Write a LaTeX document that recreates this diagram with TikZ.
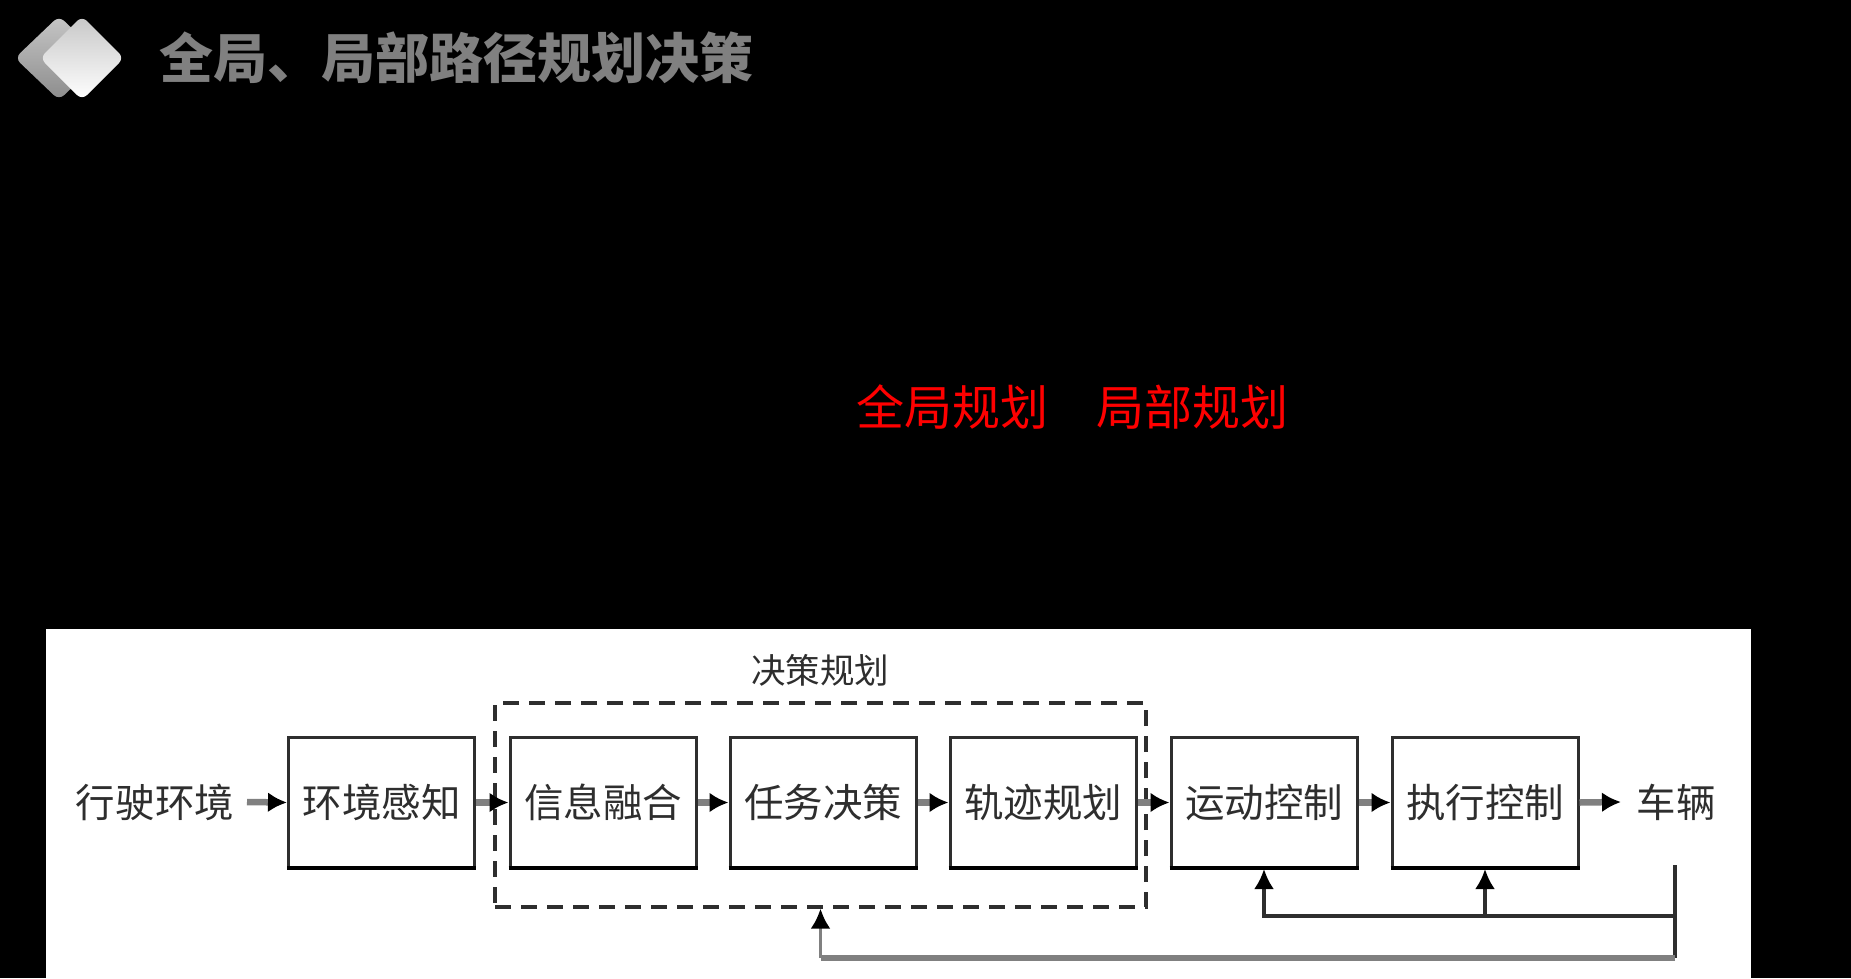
\documentclass[tikz,border=0pt]{standalone}
\usepackage{fontspec}
\usetikzlibrary{arrows.meta,calc}
\setmainfont{Noto Sans CJK SC}
\definecolor{flowgray}{HTML}{808080}
\definecolor{inkdark}{HTML}{2E2E2E}
\tikzset{
  x=1bp,y=-1bp,
  stagebox/.style={draw=inkdark,line width=3bp,fill=white,minimum width=186bp,minimum height=130bp,inner sep=0pt,text=inkdark,font=\fontsize{39.5bp}{40bp}\selectfont},
  plainlabel/.style={inner sep=0pt,text=inkdark,font=\fontsize{39.5bp}{40bp}\selectfont},
  flow/.style={draw=flowgray,line width=6.5bp,-{Latex[black,length=19bp,width=20bp]}},
  back/.style={draw=inkdark,line width=3.5bp,-{Latex[black,length=20bp,width=20bp]}},
  backplain/.style={draw=inkdark,line width=3.5bp},
  backwide/.style={draw=flowgray,line width=6bp},
  framebox/.style={draw=inkdark,line width=3.2bp,dash pattern=on 16bp off 10bp,minimum width=651bp,minimum height=204bp,inner sep=0pt},
  heading/.style={inner sep=0pt,text=flowgray,font=\fontsize{54bp}{55bp}\selectfont\bfseries},
  redlabel/.style={inner sep=0pt,text=red,font=\fontsize{48bp}{48bp}\selectfont},
  gem/.style={rounded corners=7bp,line width=0pt}
}
\begin{document}
\begin{tikzpicture}
\useasboundingbox (0,0) rectangle (1851,978);
\fill[black] (0,0) rectangle (1851,978);
\fill[white] (46,629) rectangle (1751,978);
% logo
\shade[gem,top color=gray!45,bottom color=gray!90] (59,16) -- (103,58) -- (59,100) -- (15,58) -- cycle;
\shade[gem,top color=black!22,bottom color=white] (82,16) -- (124,58) -- (82,100) -- (40,58) -- cycle;
% texts
\node[heading,anchor=west] (title) at (159,58) {全局、局部路径规划决策};
\node[redlabel] (globalplan) at (952,407) {全局规划};
\node[redlabel] (localplan) at (1192,407) {局部规划};
% diagram
\node[plainlabel] (env) at (155,802) {行驶环境};
\node[stagebox] (b1) at (381.5,802.5) {环境感知};
\node[framebox] (plan) at (820.5,805) {};
\node[stagebox] (b2) at (603,802.5) {信息融合};
\node[stagebox] (b3) at (823,802.5) {任务决策};
\node[stagebox] (b4) at (1043,802.5) {轨迹规划};
\node[stagebox] (b5) at (1264,802.5) {运动控制};
\node[stagebox] (b6) at (1485,802.5) {执行控制};
\node[plainlabel] (car) at (1676,802) {车辆};
\node[inner sep=0pt,text=inkdark,font=\fontsize{34.5bp}{35bp}\selectfont] (plantitle) at (820,670) {决策规划};
\coordinate (envout) at (247,802);
\coordinate (carin) at (1621,802);
\coordinate (carbase) at (1675,865);
\coordinate (busa) at (1675,916);
\coordinate (busb) at (1675,958);
\coordinate (planin) at (plan.south);
\foreach \n in {b1,b2,b3,b4,b5,b6}
  \draw[black,line width=4.5bp] ($(\n.south west)+(0,-1)$) -- ($(\n.south east)+(0,-1)$);
\draw[flow] (envout) -- (b1.west);
\draw[flow] (b1.east) -- (b2.west);
\draw[flow] (b2.east) -- (b3.west);
\draw[flow] (b3.east) -- (b4.west);
\draw[flow] (b4.east) -- (b5.west);
\draw[flow] (b5.east) -- (b6.west);
\draw[flow] (b6.east) -- (carin);
\draw[backplain] (carbase) -- (busb);
\draw[back] (busa) -| (b5.south);
\draw[back] (busa) -| (b6.south);
\draw[backwide] (busb) -- (planin |- busb);
\draw[back,draw=flowgray] (planin |- busb) -- (planin);
\end{tikzpicture}
\end{document}
